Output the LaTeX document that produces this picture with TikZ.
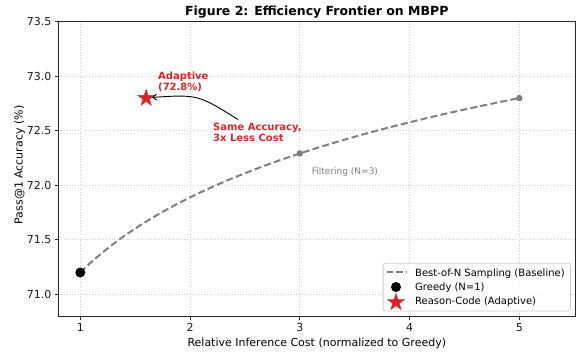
\documentclass[tikz,border=0pt]{standalone}
\usepackage{fontspec}
\setmainfont{DejaVu Sans}
\usetikzlibrary{shapes.geometric,arrows.meta}
\definecolor{mplred}{HTML}{D62728}
\definecolor{mplgray}{HTML}{808080}
\definecolor{gridgray}{HTML}{D0D0D0}
\begin{document}
\begin{tikzpicture}[x=1pt,y=1pt,
  ticklab/.style={font=\fontsize{11}{13}\selectfont, inner sep=0pt, text=black!90},
  axlab/.style={font=\fontsize{11}{13}\selectfont, inner sep=0pt},
  titlelab/.style={font=\fontsize{12.5}{15}\selectfont\bfseries, inner sep=0pt},
  annlab/.style={font=\fontsize{10}{11}\selectfont\bfseries, text=mplred, inner sep=0pt, align=left},
  leglab/.style={font=\fontsize{10}{12}\selectfont, inner sep=0pt},
  gridline/.style={draw=gridgray, dotted, line width=0.8pt},
  spine/.style={draw=black!85, line width=1pt},
  tickmark/.style={draw=black!85, line width=0.9pt},
  frontier/.style={draw=mplgray, line width=2pt, dash pattern=on 7pt off 3.2pt},
  smalldot/.style={circle, fill=mplgray, inner sep=0pt, minimum size=6.5pt},
  bigdot/.style={circle, fill=black, inner sep=0pt, minimum size=10pt},
  redstar/.style={star, star points=5, star point ratio=2.618, fill=mplred, draw=mplred, line width=0.5pt, inner sep=0pt, minimum size=17.5pt},
  legbox/.style={draw=black!20, fill=white, fill opacity=0.8, rounded corners=2.5pt, line width=0.8pt}
]
\useasboundingbox (0,0) rectangle (577,354);

\node[titlelab, anchor=base] (title) at (316.8,338.5) {Figure 2: Efficiency Frontier on MBPP};

\begin{scope}[shift={(80.3pt,59.7pt)}, x=109.75pt, y=109pt]
  % grid
  \foreach \i in {0,...,4} { \draw[gridline] (\i,-0.2) -- (\i,2.5); }
  \foreach \j in {0,0.5,1,1.5,2} { \draw[gridline] (-0.2,\j) -- (4.51,\j); }
  % frontier curve
  \draw[frontier] plot[domain=1:5, samples=80, smooth] ({\x-1},{0.2+0.99413*ln(\x)});
  \node[smalldot] (filt) at (2,1.2922) {};
  \node[smalldot] (bon5) at (4,1.8) {};
  \node[bigdot] (greedy) at (0,0.2) {};
  \node[redstar] (adaptive) at (0.6,1.8) {};
  % spines
  \draw[spine] (-0.2,-0.2) rectangle (4.51,2.5);
  % x ticks
  \foreach \i/\lab in {0/1,1/2,2/3,3/4,4/5} {
    \draw[tickmark] (\i,-0.2) -- ++(0,-3.5pt);
    \node[ticklab, anchor=base] (xt\lab) at ([yshift=-15.6pt]\i,-0.2) {\lab};
  }
  % y ticks
  \foreach \v/\lab/\n in {0/71.0/a,0.5/71.5/b,1/72.0/c,1.5/72.5/d,2/73.0/e,2.5/73.5/f} {
    \draw[tickmark] (-0.2,\v) -- ++(-3.5pt,0);
    \node[ticklab, anchor=east] (yt\n) at ([xshift=-6.8pt]-0.2,\v) {\lab};
  }
\end{scope}

% axis labels
\node[axlab, anchor=base] (xlabel) at (316.8,8) {Relative Inference Cost (normalized to Greedy)};
\node[axlab, anchor=base, rotate=90] (ylabel) at (22.7,189) {Pass@1 Accuracy (\%)};

% annotations
\node[annlab, anchor=north west] (adlab) at (158,282) {Adaptive\\(72.8\%)};
\node[annlab, anchor=north west] (samelab) at (213,231.5) {Same Accuracy,\\3x Less Cost};
\node[font=\fontsize{9}{11}\selectfont, text=mplgray, inner sep=0pt, anchor=base west] (filtlab) at (311.7,180) {Filtering (N=3)};

\coordinate (arrstart) at (238,234.5);
\coordinate (arrctrl) at (198,259.5);
\coordinate (arrend) at (152,256.6);
\draw[black, line width=0.9pt, -{Straight Barb[length=4pt,width=6pt]}] (arrstart) .. controls (arrctrl) .. (arrend);

% legend
\node[legbox, minimum width=187.3pt, minimum height=47.7pt, anchor=south west] (legend) at (382.7,42.7) {};
\coordinate (lgA) at (386.5,81.7);
\coordinate (lgB) at (406,81.7);
\draw[frontier, dash pattern=on 6.5pt off 3pt] (lgA) -- (lgB);
\node[bigdot] (lgdot) at (396,67) {};
\node[redstar] (lgstar) at (396,51.7) {};
\node[leglab, anchor=base west] (lt1) at (415,78) {Best-of-N Sampling (Baseline)};
\node[leglab, anchor=base west] (lt2) at (415,64) {Greedy (N=1)};
\node[leglab, anchor=base west] (lt3) at (415,49.3) {Reason-Code (Adaptive)};
\end{tikzpicture}
\end{document}
